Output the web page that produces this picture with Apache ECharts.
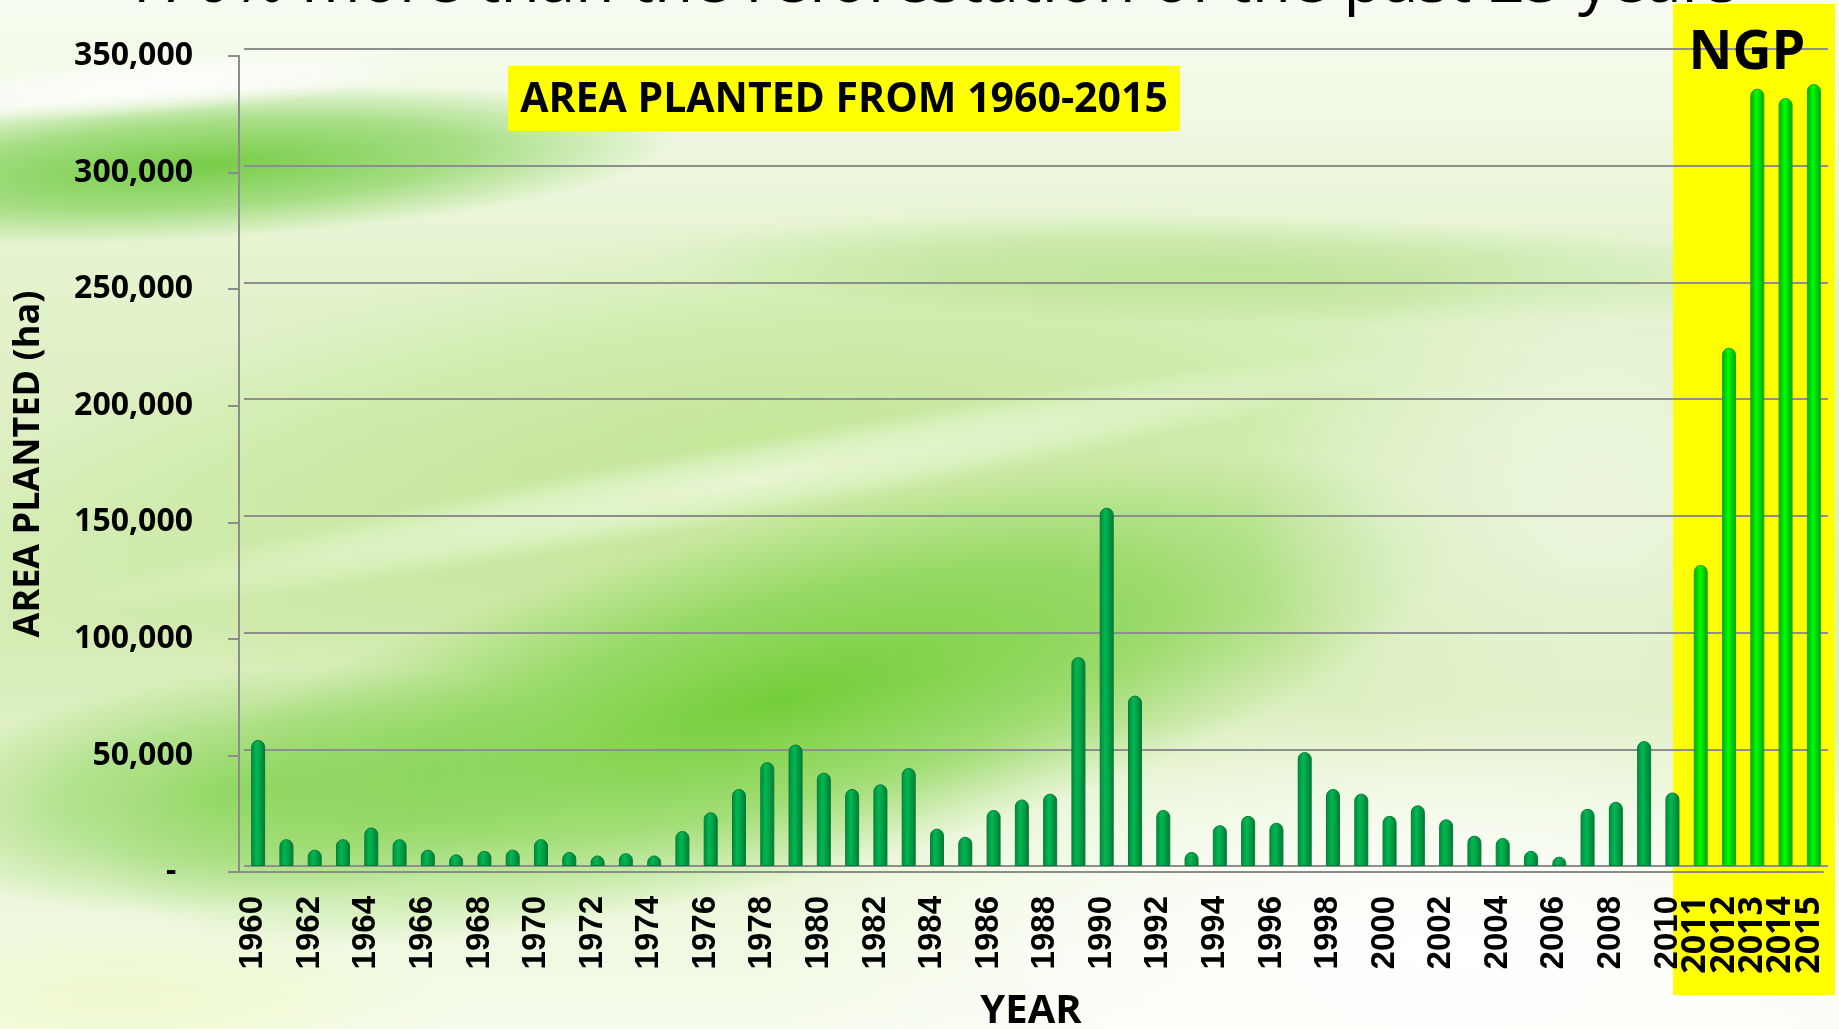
<!DOCTYPE html>
<html lang="en">
<head>
    <meta charset="UTF-8">
    <title>Area planted 1960-2015</title>
    <style>
        html, body { margin: 0; padding: 0; background: #fff; }
        #main { width: 1839px; height: 1029px; }
    </style>
</head>
<body>
    <div id="main"></div>
    <script src="https://cdn.jsdelivr.net/npm/echarts@6/dist/echarts.min.js"></script>
    <script>
        // data
        const years = [];
        for (let y = 1960; y <= 2015; y++) years.push(String(y));
        const areaPlanted = [
            54000, 11500, 7000, 11500, 16500, 11500, 7000, 5000, 6500, 7000,
            11500, 6000, 4500, 5500, 4500, 15000, 23000, 33000, 44500, 52000,
            40000, 33000, 35000, 42000, 16000, 12500, 24000, 28500, 31000, 89500,
            153500, 73000, 24000, 6000, 17500, 21500, 18500, 48800, 33000, 31000,
            21500, 26000, 20000, 13000, 12000, 6500, 4000, 24500, 27500, 53500,
            31500, 129000, 222000, 333000, 329000, 335000
        ];
        const ngpStart = 2011;

        const FONT = '"Open Sans", "DejaVu Sans", sans-serif';

        // soft green blobs for the background
        function blob(x, y, sx, sy, rot, rgb, a) {
            return {
                type: 'circle', z: -20, silent: true,
                x: x, y: y, scaleX: sx, scaleY: sy, rotation: rot,
                shape: { cx: 0, cy: 0, r: 100 },
                style: {
                    fill: {
                        type: 'radial', x: 0.5, y: 0.5, r: 0.5,
                        colorStops: [
                            { offset: 0, color: 'rgba(' + rgb + ',' + a + ')' },
                            { offset: 0.55, color: 'rgba(' + rgb + ',' + (a * 0.6) + ')' },
                            { offset: 1, color: 'rgba(' + rgb + ',0)' }
                        ]
                    }
                }
            };
        }

        const barData = areaPlanted.map((v, i) => {
            const ngp = +years[i] >= ngpStart;
            return {
                value: v,
                itemStyle: {
                    color: {
                        type: 'linear', x: 0, y: 0, x2: 1, y2: 0,
                        colorStops: ngp ? [
                            { offset: 0, color: '#00a800' },
                            { offset: 0.45, color: '#00ff00' },
                            { offset: 1, color: '#00a000' }
                        ] : [
                            { offset: 0, color: '#008a3a' },
                            { offset: 0.4, color: '#00b852' },
                            { offset: 1, color: '#007a32' }
                        ]
                    },
                    borderColor: ngp ? '#2a9a2a' : '#0a7a3a',
                    borderWidth: 1,
                    borderRadius: [7, 7, 0, 0]
                }
            };
        });

        // year label style shared by the two label axes
        const yearLabel = {
            rotate: 90, margin: 24,
            fontFamily: '"Liberation Sans", Arial, sans-serif',
            fontWeight: 'bold', fontSize: 33, color: '#000',
            formatter: v => (+v >= ngpStart ? '{n|' + v + '}' : v),
            rich: {
                n: { fontFamily: FONT, fontWeight: 'bold', fontSize: 34, color: '#000' }
            }
        };

        const chart = echarts.init(document.getElementById('main'));
        chart.setOption({
            animation: false,
            backgroundColor: '#f3f9ea',
            graphic: [
                {
                    type: 'rect', z: -30, silent: true,
                    shape: { x: 0, y: 0, width: 1839, height: 1029 },
                    style: {
                        fill: {
                            type: 'linear', x: 0, y: 0, x2: 0, y2: 1,
                            colorStops: [
                                { offset: 0, color: '#f7fcf0' },
                                { offset: 0.3, color: '#e2f2cb' },
                                { offset: 0.6, color: '#d4ebb2' },
                                { offset: 0.85, color: '#eaf6d7' },
                                { offset: 1, color: '#f7fcee' }
                            ]
                        }
                    }
                },
                blob(760, 440, 8.0, 2.2, 0.12, '175,225,120', 0.55),
                blob(780, 700, 7.0, 1.8, 0.25, '110,205,50', 0.95),
                blob(250, 790, 3.5, 1.2, 0.1, '130,210,80', 0.8),
                blob(200, 165, 4.8, 0.75, 0.06, '105,200,55', 0.9),
                blob(1250, 270, 6.0, 0.55, -0.02, '150,214,100', 0.45),
                blob(750, 480, 7.0, 0.4, 0.18, '240,250,225', 0.8),
                blob(1450, 950, 7.0, 2.5, 0, '255,255,255', 1),
                blob(1600, 520, 3.5, 2.8, 0, '242,249,234', 0.7),
                blob(120, 1000, 3.5, 0.8, 0, '238,248,205', 0.9),
                blob(150, 85, 3.0, 0.3, 0.08, '255,255,255', 0.9),
                {
                    type: 'rect', z: -5, silent: true,
                    shape: { x: 1673, y: 4, width: 162, height: 991 },
                    style: { fill: '#ffff00' }
                },
                {
                    type: 'text', z: 50, silent: true,
                    x: 930, y: 16,
                    style: {
                        text: '170% more than the reforestation of the past 25 years',
                        font: '64px ' + FONT, fill: '#000',
                        align: 'center', verticalAlign: 'bottom'
                    }
                },
                {
                    type: 'rect', z: 50, silent: true,
                    shape: { x: 508, y: 66, width: 672, height: 65 },
                    style: { fill: '#ffff00' }
                },
                {
                    type: 'text', z: 51, silent: true,
                    x: 844, y: 100,
                    style: {
                        text: 'AREA PLANTED FROM 1960-2015',
                        font: 'bold 41px ' + FONT, fill: '#000',
                        align: 'center', verticalAlign: 'middle'
                    }
                },
                {
                    type: 'text', z: 51, silent: true,
                    x: 1747, y: 54,
                    style: {
                        text: 'NGP',
                        font: 'bold 54px ' + FONT, fill: '#000',
                        align: 'center', verticalAlign: 'middle'
                    }
                }
            ],
            grid: [
                // back wall: gridlines and bars
                { left: 244, top: 49, width: 1584, height: 817, outerBoundsMode: 'none', containLabel: false },
                // front: axis lines, ticks and labels
                { left: 239, top: 56, width: 1584, height: 816, outerBoundsMode: 'none', containLabel: false }
            ],
            xAxis: [
                {
                    gridIndex: 0, type: 'category', data: years,
                    axisLine: { show: false }, axisTick: { show: false },
                    axisLabel: { show: false }
                },
                {
                    gridIndex: 1, type: 'category', data: years, position: 'bottom',
                    name: 'YEAR', nameLocation: 'middle', nameGap: 120,
                    nameTextStyle: { fontFamily: FONT, fontWeight: 'bold', fontSize: 40, color: '#000' },
                    axisLine: { lineStyle: { color: '#8c8c8c', width: 2 } },
                    axisTick: { interval: 0, length: 8, lineStyle: { color: '#8c8c8c', width: 2 } },
                    axisLabel: Object.assign({}, yearLabel, {
                        interval: (i, v) => v !== '2014' && (i % 2 === 0 || +v >= 2010),
                        showMinLabel: true, showMaxLabel: true
                    })
                },
                {
                    // carries only the 2014 label, which the first label axis drops as overlapping
                    gridIndex: 1, type: 'category', data: years, position: 'bottom',
                    axisLine: { show: false }, axisTick: { show: false },
                    axisLabel: Object.assign({}, yearLabel, {
                        interval: (i, v) => v === '2014',
                        showMinLabel: false, showMaxLabel: false
                    })
                }
            ],
            yAxis: [
                {
                    gridIndex: 0, type: 'value', min: 0, max: 350000, interval: 50000,
                    axisLine: { show: false }, axisTick: { show: false },
                    axisLabel: { show: false },
                    splitLine: { lineStyle: { color: '#8e8e8e', width: 2 } }
                },
                {
                    gridIndex: 1, type: 'value', min: 0, max: 350000, interval: 50000,
                    name: 'AREA PLANTED (ha)', nameLocation: 'middle', nameGap: 192,
                    nameTextStyle: { fontFamily: FONT, fontWeight: 'bold', fontSize: 36, color: '#000' },
                    axisLine: { show: true, lineStyle: { color: '#8c8c8c', width: 2 } },
                    axisTick: { show: true, length: 11, lineStyle: { color: '#8c8c8c', width: 2 } },
                    splitLine: { show: false },
                    axisLabel: {
                        margin: 46,
                        fontFamily: FONT, fontWeight: 'bold', fontSize: 32, color: '#000',
                        formatter: v => (v === 0 ? '-  ' : v.toLocaleString('en-US'))
                    }
                }
            ],
            series: [
                {
                    type: 'bar', xAxisIndex: 0, yAxisIndex: 0,
                    barWidth: 14,
                    data: barData
                }
            ]
        });
    </script>
</body>
</html>
